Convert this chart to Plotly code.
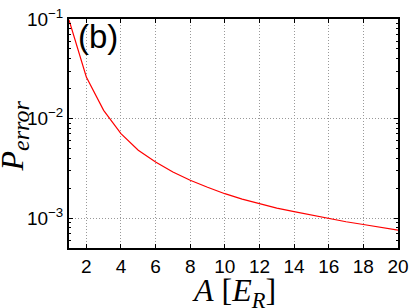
import plotly.graph_objects as go

A_values = [1, 2, 3, 4, 5, 6, 7, 8, 9, 10, 11, 12, 13, 14, 15, 16, 17, 18, 19, 20]
P_error = [0.098, 0.0262, 0.0121, 0.00706, 0.0048, 0.00366, 0.0029, 0.0024,
           0.00204, 0.00176, 0.00155, 0.00139, 0.00126, 0.00116, 0.00107,
           0.00099, 0.00092, 0.000863, 0.00081, 0.000757]
x_ticks = [2, 4, 6, 8, 10, 12, 14, 16, 18, 20]
y_ticks = [0.1, 0.01, 0.001]
y_tick_text = ["10<sup>\u22121</sup>", "10<sup>\u22122</sup>", "10<sup>\u22123</sup>"]
y_minor = [0.09, 0.08, 0.07, 0.06, 0.05, 0.04, 0.03, 0.02,
           0.009, 0.008, 0.007, 0.006, 0.005, 0.004, 0.003, 0.002,
           0.0009, 0.0008, 0.0007, 0.0006, 0.0005]

fig = go.Figure()
fig.add_trace(go.Scatter(x=A_values, y=P_error, mode="lines",
                         line=dict(color="#ff0000", width=1.2), showlegend=False))

tick_font = dict(family="Liberation Sans, Arial, sans-serif", size=19, color="black")
title_font = dict(family="Liberation Serif, Times New Roman, serif", size=32, color="black")

fig.update_xaxes(range=[1, 20], tickvals=x_ticks, ticks="inside", ticklen=4,
                 tickwidth=1, tickcolor="black", showline=True, linecolor="black",
                 linewidth=2, mirror="allticks", showgrid=True, gridcolor="#999999",
                 griddash="1px,2px", gridwidth=1, zeroline=False, tickfont=tick_font,
                 automargin=False)
fig.update_yaxes(type="log", range=[-3.3, -1], tickvals=y_ticks, ticktext=y_tick_text,
                 ticks="inside", ticklen=4, tickwidth=1, tickcolor="black",
                 showline=True, linecolor="black", linewidth=2, mirror="allticks",
                 showgrid=True, gridcolor="#999999", griddash="1px,2px", gridwidth=1,
                 zeroline=False, tickfont=tick_font, automargin=False,
                 minor=dict(ticks="inside", ticklen=2, tickcolor="black",
                            tickvals=y_minor, showgrid=False))

fig.add_annotation(text="<i>A</i> [<i>E</i><sub><i>R</i></sub>]", xref="paper", yref="paper",
                   x=0.5, y=0, yshift=-22, xanchor="center", yanchor="top",
                   showarrow=False, font=title_font)
fig.add_annotation(text="<i>P</i><sub><span style='font-size:24px'><i>error</i></span></sub>",
                   xref="paper", yref="paper", x=0, xshift=-55, y=0.5, yshift=-3,
                   xanchor="center", yanchor="middle", textangle=-90,
                   showarrow=False, font=title_font)
fig.add_annotation(text="(b)", xref="paper", yref="paper", x=0.022, y=1.0, yshift=3,
                   xanchor="left", yanchor="top", showarrow=False,
                   font=dict(family="Liberation Sans, Arial, sans-serif", size=33, color="black"))

fig.update_layout(width=411, height=308, margin=dict(l=69, r=13, t=19, b=60),
                  plot_bgcolor="white", paper_bgcolor="white")
fig.write_html("out.html", config={"displayModeBar": False},
               post_script="document.body.style.margin='0';")
